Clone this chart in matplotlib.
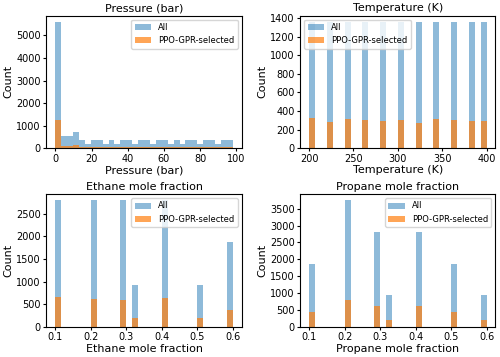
import numpy as np
import matplotlib
matplotlib.use('Agg')
import matplotlib.pyplot as plt
from matplotlib.ticker import MultipleLocator

# Давление: счёт по 30 корзинам гистограммы (0..98 бар)
pressure_range = (0, 98)
pressure_all = [5600, 540, 540, 710, 350, 180, 350, 350, 180, 350,
                180, 350, 350, 180, 350, 350, 180, 350, 350, 180,
                350, 180, 350, 350, 180, 350, 350, 180, 350, 350]
pressure_sel = [1250, 100, 100, 150, 75, 40, 75, 75, 40, 75,
                40, 75, 75, 40, 75, 75, 40, 75, 75, 40,
                75, 40, 75, 75, 40, 75, 75, 40, 75, 75]

# Температура
temp_values = [200, 220, 240, 260, 280, 300, 320, 340, 360, 380, 400]
temp_all = [1360] * 11
temp_sel = [325, 285, 310, 305, 290, 300, 270, 310, 305, 290, 295]

# Мольные доли
frac_values = [0.1, 0.2, 0.3, 0.3333, 0.4, 0.5, 0.6]
ethane_all = [2800, 2800, 2800, 930, 2800, 930, 1870]
ethane_sel = [648, 606, 585, 197, 634, 197, 373]
propane_all = [1870, 3750, 2800, 930, 2800, 1870, 930]
propane_sel = [422, 797, 610, 188, 628, 422, 206]

plt.rcParams['font.size'] = 8

fig, axes = plt.subplots(2, 2, figsize=(5, 3.57), dpi=100)

def draw(ax, centers, bins, all_counts, sel_counts, title, loc, ystep):
    ax.hist(centers, bins=bins, weights=all_counts, alpha=0.5, label='All')
    ax.hist(centers, bins=bins, weights=sel_counts, alpha=0.7, label='PPO-GPR-selected')
    ax.set_title(title, fontsize=8, pad=3)
    ax.set_xlabel(title, fontsize=8, labelpad=1)
    ax.set_ylabel('Count', fontsize=8, labelpad=2)
    ax.yaxis.set_major_locator(MultipleLocator(ystep))
    ax.tick_params(labelsize=7, pad=1.5, length=2.5)
    ax.legend(loc=loc, fontsize=6)

p_edges = np.linspace(pressure_range[0], pressure_range[1], 31)
p_centers = (p_edges[:-1] + p_edges[1:]) / 2
draw(axes[0, 0], p_centers, p_edges, pressure_all, pressure_sel, 'Pressure (bar)', 'upper right', 1000)

t_edges = np.linspace(min(temp_values), max(temp_values), 31)
draw(axes[0, 1], temp_values, t_edges, temp_all, temp_sel, 'Temperature (K)', 'upper left', 200)

f_edges = np.linspace(min(frac_values), max(frac_values), 31)
draw(axes[1, 0], frac_values, f_edges, ethane_all, ethane_sel, 'Ethane mole fraction', 'upper right', 500)
draw(axes[1, 1], frac_values, f_edges, propane_all, propane_sel, 'Propane mole fraction', 'upper right', 500)

fig.tight_layout(pad=0.3, h_pad=0.6, w_pad=1.0)
fig.savefig('out.png', dpi=100)
